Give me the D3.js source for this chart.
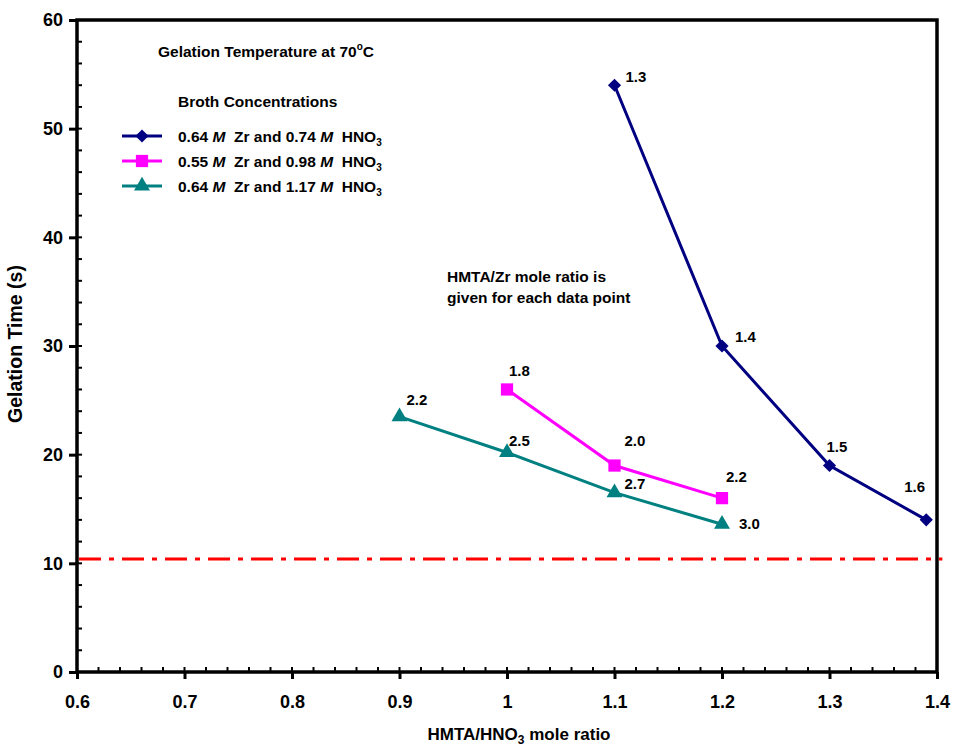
<!DOCTYPE html>
<html>
<head>
<meta charset="utf-8">
<script src="https://cdn.jsdelivr.net/npm/d3@7"></script>
<style>
  body { margin: 0; background: #fff; }
  text { font-family: "Liberation Sans", Arial, sans-serif; font-weight: bold; }
</style>
</head>
<body>
<div id="area"></div>
<script>
// data
let seriesNames = ["0.64 M Zr and 0.74 M HNO3", "0.55 M Zr and 0.98 M HNO3", "0.64 M Zr and 1.17 M HNO3"];
let seriesA_x = [1.1, 1.2, 1.3, 1.39];
let seriesA_y = [54, 30, 19, 14];
let seriesA_lbl = ["1.3", "1.4", "1.5", "1.6"];
let seriesB_x = [1.0, 1.1, 1.2];
let seriesB_y = [26, 19, 16];
let seriesB_lbl = ["1.8", "2.0", "2.2"];
let seriesC_x = [0.9, 1.0, 1.1, 1.2];
let seriesC_y = [23.5, 20.2, 16.5, 13.6];
let seriesC_lbl = ["2.2", "2.5", "2.7", "3.0"];
let limitLine = 10.4;
let xTicks = [0.6, 0.7, 0.8, 0.9, 1.0, 1.1, 1.2, 1.3, 1.4];
let yTicks = [0, 10, 20, 30, 40, 50, 60];

let margin = { top: 20, right: 16, bottom: 75, left: 77 };
let exteriorWidth = 953, exteriorHeight = 747;
let interiorWidth = exteriorWidth - margin.left - margin.right,
    interiorHeight = exteriorHeight - margin.top - margin.bottom;

let svg = d3.select("#area").append("svg")
    .attr("width", exteriorWidth)
    .attr("height", exteriorHeight)
  .append("g")
    .attr("transform", translate(margin.left, margin.top));

let x = d3.scaleLinear().domain([0.6, 1.4]).range([0, interiorWidth]);
let y = d3.scaleLinear().domain([0, 60]).range([interiorHeight, 0]);

let series = [
  { name: seriesNames[0], xs: seriesA_x, ys: seriesA_y, lbl: seriesA_lbl, color: "#000080", symbol: d3.symbolDiamond2, size: 110,
    off: [[11, -3], [13, -4], [-3, -14], [-22, -28]] },
  { name: seriesNames[1], xs: seriesB_x, ys: seriesB_y, lbl: seriesB_lbl, color: "#ff00ff", symbol: d3.symbolSquare, size: 150,
    off: [[2, -13], [10, -20], [4, -16]] },
  { name: seriesNames[2], xs: seriesC_x, ys: seriesC_y, lbl: seriesC_lbl, color: "#008080", symbol: d3.symbolTriangle, size: 110,
    off: [[7, -12], [2, -6], [10, -4], [17, 5]] }
];

// minor ticks inside
let minorX = d3.range(0.6, 1.4001, 0.02);
svg.append("g").selectAll("line").data(minorX).join("line")
    .attr("x1", d => x(d)).attr("x2", d => x(d))
    .attr("y1", interiorHeight).attr("y2", interiorHeight - 5)
    .attr("stroke", "#000").attr("stroke-width", 2);
let minorY = d3.range(0, 60.001, 2);
svg.append("g").selectAll("line").data(minorY).join("line")
    .attr("x1", 0).attr("x2", 5)
    .attr("y1", d => y(d)).attr("y2", d => y(d))
    .attr("stroke", "#000").attr("stroke-width", 2);

// axes
let xAxis = svg.append("g")
    .attr("transform", translate(0, interiorHeight))
    .call(d3.axisBottom(x).tickValues(xTicks).tickSize(7).tickPadding(16)
      .tickFormat(d => d === 1 ? "1" : d3.format(".1f")(d)));
let yAxis = svg.append("g")
    .call(d3.axisLeft(y).tickValues(yTicks).tickSize(8).tickPadding(6));
[xAxis, yAxis].forEach(a => {
  a.select(".domain").remove();
  a.selectAll(".tick line").attr("stroke-width", 3);
  a.selectAll(".tick text").attr("font-size", 18).attr("fill", "#000")
    .style("font-family", "'Liberation Sans', Arial, sans-serif").style("font-weight", "bold");
});

// frame
svg.append("rect")
    .attr("width", interiorWidth).attr("height", interiorHeight)
    .attr("fill", "none").attr("stroke", "#000").attr("stroke-width", 3.5);

// dash-dot reference line
svg.append("line")
    .attr("x1", 2).attr("x2", x(1.405))
    .attr("y1", y(limitLine)).attr("y2", y(limitLine))
    .attr("stroke", "#ff0000").attr("stroke-width", 3)
    .attr("stroke-dasharray", "22,8,5,8");

// series
let line = d3.line().x(d => x(d[0])).y(d => y(d[1]));
series.forEach(s => {
  let pts = s.xs.map((v, i) => [v, s.ys[i], s.lbl[i], s.off[i]]);
  svg.append("path").datum(pts)
      .attr("fill", "none").attr("stroke", s.color).attr("stroke-width", 3)
      .attr("d", line);
  svg.append("g").selectAll("path").data(pts).join("path")
      .attr("transform", d => translate(x(d[0]), y(d[1])))
      .attr("d", d3.symbol().type(s.symbol).size(s.size))
      .attr("fill", s.color);
  svg.append("g").selectAll("text").data(pts).join("text")
      .attr("x", d => x(d[0]) + d[3][0])
      .attr("y", d => y(d[1]) + d[3][1])
      .attr("font-size", 15).attr("fill", "#000")
      .text(d => d[2]);
});

// annotations
svg.append("text").attr("x", 81).attr("y", 37).attr("font-size", 15.5)
    .text("Gelation Temperature at 70")
  .append("tspan").attr("dy", -7).attr("font-size", 10).text("o")
  .clone(true).attr("dy", 7).attr("font-size", 15.5).text("C");
svg.append("text").attr("x", 101).attr("y", 87).attr("font-size", 15.5).text("Broth Concentrations");

svg.append("text").attr("x", 370).attr("y", 262).attr("font-size", 15.5).text("HMTA/Zr mole ratio is");
svg.append("text").attr("x", 370).attr("y", 283).attr("font-size", 15.5).text("given for each data point");

// legend
let legend = svg.append("g").attr("transform", translate(45, 116));
series.forEach((s, i) => {
  let g = legend.append("g").attr("transform", translate(0, i * 25));
  g.append("line").attr("x1", 0).attr("x2", 40).attr("stroke", s.color).attr("stroke-width", 3);
  g.append("path").attr("transform", translate(20, 0))
      .attr("d", d3.symbol().type(s.symbol).size(s.size)).attr("fill", s.color);
  let parts = s.name.split(" ");
  let t = g.append("text").attr("x", 56).attr("y", 6).attr("font-size", 15.5)
      .attr("xml:space", "preserve").style("white-space", "pre");
  // "0.64 M Zr and 0.74 M HNO3"
  t.append("tspan").text(parts[0] + " ");
  t.append("tspan").attr("font-style", "italic").text("M");
  t.append("tspan").text("  " + parts[2] + " " + parts[3] + " " + parts[4] + " ");
  t.append("tspan").attr("font-style", "italic").text("M");
  t.append("tspan").text("  HNO");
  t.append("tspan").attr("font-size", 10).attr("dy", 4).text("3");
});

// axis titles
svg.append("text")
    .attr("transform", "translate(-55," + (interiorHeight / 2 - 2) + ") rotate(-90)")
    .attr("text-anchor", "middle").attr("font-size", 19.5)
    .text("Gelation Time (s)");
let xt = svg.append("text")
    .attr("x", interiorWidth / 2 + 12).attr("y", interiorHeight + 68)
    .attr("text-anchor", "middle").attr("font-size", 17);
xt.append("tspan").text("HMTA/HNO");
xt.append("tspan").attr("font-size", 12).attr("dy", 4).text("3");
xt.append("tspan").attr("dy", -4).text(" mole ratio");

function translate(x, y = 0) {
  return "translate(" + x + "," + y + ")";
}
</script>
</body>
</html>
